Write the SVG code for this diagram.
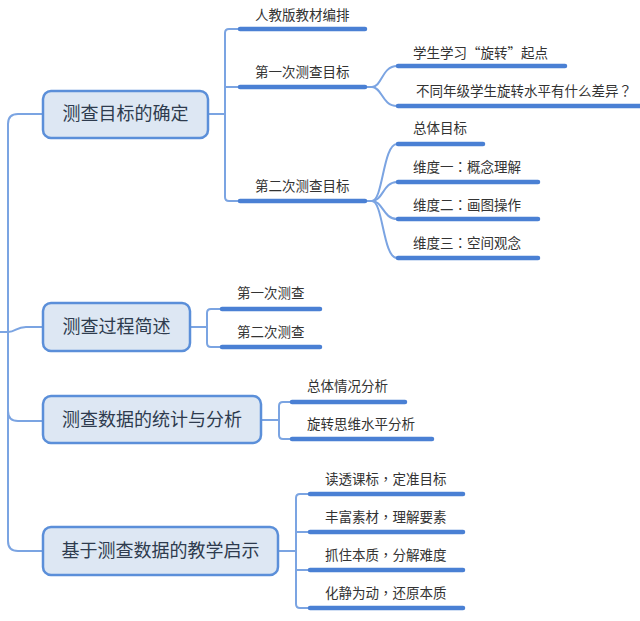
<svg xmlns="http://www.w3.org/2000/svg" width="640" height="621" viewBox="0 0 640 621">
<style>
.box{fill:#dde7f3;stroke:#5b8fd9;stroke-width:2.5}
.nt{font-family:"Noto Sans CJK SC","Liberation Sans",sans-serif;font-size:18px;fill:#2e3b4e;text-anchor:middle}
.lt{font-family:"Noto Sans CJK SC","Liberation Sans",sans-serif;font-size:13.5px;fill:#333}
.p{font-family:"Noto Sans CJK TC","Noto Sans CJK SC",sans-serif}
.c{fill:none;stroke:#7ba4e2;stroke-width:2}
.u{fill:none;stroke:#4a80d4;stroke-width:4.5;stroke-linecap:round}
</style>
<rect width="640" height="621" fill="#fff"/>
<g id="connectors">
<path class="c" d="M0,332 H8"/>
<path class="c" d="M43,114 H18 Q8,114 8,124 V541 Q8,551 18,551 H43"/>
<path class="c" d="M8,332 C16,332 16,327 26,327 H43"/>
<path class="c" d="M8,411 Q8,421 18,421 H43"/>
<path class="c" d="M208,114 H225"/>
<path class="c" d="M240,29 H229 Q225,29 225,33 V197 Q225,201 229,201 H240"/>
<path class="c" d="M225,87 H240"/>
<path class="c" d="M365,87 H372 C382,87 382,66 397,66"/>
<path class="c" d="M372,87 C382,87 382,106 397,106"/>
<path class="c" d="M365,201 H372 C383,201 383,144 397,144"/>
<path class="c" d="M372,201 C383,201 383,182 397,182"/>
<path class="c" d="M372,201 C383,201 383,219 397,219"/>
<path class="c" d="M372,201 C383,201 383,258 397,258"/>
<path class="c" d="M190,327 H207"/>
<path class="c" d="M222,309 H211 Q207,309 207,313 V343 Q207,347 211,347 H222"/>
<path class="c" d="M261,420 H279"/>
<path class="c" d="M292,402 H283 Q279,402 279,406 V435 Q279,439 283,439 H292"/>
<path class="c" d="M278,551 H296"/>
<path class="c" d="M310,494 H300 Q296,494 296,498 V604 Q296,608 300,608 H310"/>
<path class="c" d="M296,532 H310 M296,570 H310"/>
</g>
<g id="n1"><rect class="box" x="43" y="91" width="165" height="47" rx="8"/><text class="nt" x="125.5" y="120">测查目标的确定</text></g>
<g id="n2"><rect class="box" x="43" y="303" width="147" height="48" rx="8"/><text class="nt" x="116.5" y="333">测查过程简述</text></g>
<g id="n3"><rect class="box" x="43" y="396" width="218" height="47" rx="8"/><text class="nt" x="152" y="426">测查数据的统计与分析</text></g>
<g id="n4"><rect class="box" x="43" y="527" width="235" height="48" rx="8"/><text class="nt" x="160.5" y="557">基于测查数据的教学启示</text></g>
<g id="n1a"><path class="u" d="M240,29 H365"/><text class="lt" x="255" y="20">人教版教材编排</text></g>
<g id="n1b"><path class="u" d="M240,87 H365"/><text class="lt" x="255" y="77">第一次测查目标</text></g>
<g id="n1c"><path class="u" d="M240,201 H365"/><text class="lt" x="255" y="191">第二次测查目标</text></g>
<g id="n1b1"><path class="u" d="M398,66 H565"/><text class="lt" x="413" y="58">学生学习“旋转”起点</text></g>
<g id="n1b2"><path class="u" d="M398,106 H642"/><text class="lt" x="416" y="96">不同年级学生旋转水平有什么差异<tspan class="p">？</tspan></text></g>
<g id="n1c1"><path class="u" d="M398,144 H483"/><text class="lt" x="413" y="133">总体目标</text></g>
<g id="n1c2"><path class="u" d="M398,182 H538"/><text class="lt" x="413" y="172">维度一<tspan class="p">：</tspan>概念理解</text></g>
<g id="n1c3"><path class="u" d="M398,219 H538"/><text class="lt" x="413" y="210">维度二<tspan class="p">：</tspan>画图操作</text></g>
<g id="n1c4"><path class="u" d="M398,258 H538"/><text class="lt" x="413" y="248">维度三<tspan class="p">：</tspan>空间观念</text></g>
<g id="n2a"><path class="u" d="M222,309 H320"/><text class="lt" x="237" y="298">第一次测查</text></g>
<g id="n2b"><path class="u" d="M222,347 H320"/><text class="lt" x="237" y="337">第二次测查</text></g>
<g id="n3a"><path class="u" d="M292,402 H405"/><text class="lt" x="307" y="391">总体情况分析</text></g>
<g id="n3b"><path class="u" d="M292,439 H432"/><text class="lt" x="307" y="429">旋转思维水平分析</text></g>
<g id="n4a"><path class="u" d="M310,494 H463"/><text class="lt" x="325" y="484">读透课标<tspan class="p">，</tspan>定准目标</text></g>
<g id="n4b"><path class="u" d="M310,532 H463"/><text class="lt" x="325" y="522">丰富素材<tspan class="p">，</tspan>理解要素</text></g>
<g id="n4c"><path class="u" d="M310,570 H463"/><text class="lt" x="325" y="560">抓住本质<tspan class="p">，</tspan>分解难度</text></g>
<g id="n4d"><path class="u" d="M310,608 H463"/><text class="lt" x="325" y="598">化静为动<tspan class="p">，</tspan>还原本质</text></g>
</svg>
